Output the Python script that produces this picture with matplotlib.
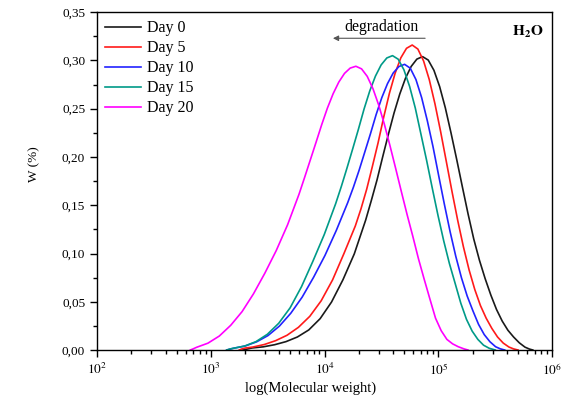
import numpy as np
import matplotlib
matplotlib.use('Agg')
import matplotlib.pyplot as plt

plt.rcParams['font.family'] = ['Liberation Serif', 'DejaVu Serif']
plt.rcParams['mathtext.fontset'] = 'stix'

# log10(M) and W(%), one pair of lists per day
day0_logM = [3.28, 3.32, 3.361, 3.461, 3.561, 3.661, 3.761, 3.861, 3.961, 4.061, 4.161, 4.261,
             4.361, 4.411, 4.461, 4.511, 4.561, 4.611, 4.661, 4.711, 4.761, 4.811, 4.861,
             4.911, 4.961, 5.011, 5.061, 5.111, 5.161, 5.211, 5.261, 5.311, 5.361, 5.411,
             5.461, 5.511, 5.561, 5.611, 5.661, 5.711, 5.761, 5.80, 5.83]
day0_w = [0.0, 0.001, 0.0021, 0.0033, 0.0055, 0.0087, 0.0135, 0.0208, 0.0325, 0.0497, 0.0727, 0.0996,
          0.1346, 0.155, 0.1763, 0.2003, 0.2236, 0.2458, 0.2653, 0.2816, 0.2938, 0.3014, 0.304,
          0.3004, 0.2898, 0.273, 0.251, 0.225, 0.1975, 0.169, 0.141, 0.115, 0.093, 0.074,
          0.057, 0.042, 0.030, 0.0205, 0.0135, 0.0075, 0.003, 0.001, 0.0]

day5_logM = [3.25, 3.27, 3.30, 3.37, 3.47, 3.57, 3.67, 3.77, 3.87, 3.97, 4.07, 4.17, 4.27,
             4.32, 4.37, 4.42, 4.47, 4.52, 4.57, 4.62, 4.67, 4.72, 4.77,
             4.82, 4.87, 4.92, 4.97, 5.02, 5.07, 5.12, 5.17, 5.22, 5.27, 5.32, 5.37,
             5.42, 5.47, 5.52, 5.57, 5.62, 5.66, 5.70]
day5_w = [0.0, 0.001, 0.002, 0.0031, 0.0057, 0.0097, 0.0153, 0.0235, 0.0349, 0.051, 0.0726, 0.0999, 0.1285,
          0.1463, 0.1666, 0.1902, 0.2146, 0.2415, 0.2661, 0.2868, 0.3027, 0.3126, 0.316,
          0.3118, 0.2995, 0.2802, 0.2551, 0.2262, 0.1952, 0.1641, 0.1343, 0.107, 0.083, 0.0627, 0.046,
          0.033, 0.0224, 0.0135, 0.0072, 0.0031, 0.0012, 0.0]

day10_logM = [3.14, 3.17, 3.203, 3.303, 3.403, 3.503, 3.603, 3.703, 3.803, 3.903, 4.003, 4.103,
              4.203, 4.253, 4.303, 4.353, 4.403, 4.453, 4.503, 4.553, 4.603, 4.653, 4.703,
              4.753, 4.803, 4.853, 4.903, 4.953, 5.003, 5.053, 5.103, 5.153, 5.203, 5.253,
              5.303, 5.353, 5.403, 5.453, 5.503, 5.543, 5.583]
day10_w = [0.0, 0.001, 0.0019, 0.0042, 0.0085, 0.015, 0.0248, 0.0381, 0.0548, 0.0753, 0.0979, 0.1239,
           0.1526, 0.1686, 0.1861, 0.205, 0.224, 0.2439, 0.2615, 0.276, 0.287, 0.2937, 0.296,
           0.292, 0.2802, 0.2615, 0.2375, 0.2106, 0.1805, 0.1509, 0.1227, 0.0971, 0.0748, 0.056,
           0.0408, 0.0266, 0.016, 0.0086, 0.0034, 0.0013, 0.0]

day15_logM = [3.14, 3.167, 3.197, 3.297, 3.397, 3.497, 3.597, 3.697, 3.797, 3.897, 3.997, 4.097,
              4.147, 4.197, 4.247, 4.297, 4.347, 4.397, 4.447, 4.497, 4.547, 4.597,
              4.647, 4.697, 4.747, 4.797, 4.847, 4.897, 4.947, 4.997, 5.047, 5.097, 5.147,
              5.197, 5.247, 5.297, 5.347, 5.397, 5.447, 5.477, 5.50]
day15_w = [0.0, 0.001, 0.0018, 0.0041, 0.0087, 0.0163, 0.0277, 0.0437, 0.0656, 0.0919, 0.1196, 0.1515,
           0.1694, 0.1886, 0.2084, 0.2286, 0.2497, 0.2684, 0.2838, 0.2954, 0.3026, 0.305,
           0.3013, 0.2904, 0.2732, 0.2508, 0.2236, 0.1963, 0.1674, 0.1393, 0.1131, 0.0896, 0.0692,
           0.0486, 0.0318, 0.0196, 0.011, 0.005, 0.0018, 0.0008, 0.0]

day20_logM = [2.82, 2.845, 2.875, 2.975, 3.075, 3.175, 3.275, 3.375, 3.475, 3.575, 3.675, 3.775,
              3.825, 3.875, 3.925, 3.975, 4.025, 4.075, 4.125, 4.175, 4.225, 4.275,
              4.325, 4.375, 4.425, 4.475, 4.525, 4.575, 4.625, 4.675, 4.725, 4.775, 4.825,
              4.875, 4.925, 4.975, 5.025, 5.075, 5.125, 5.175, 5.225, 5.26]
day20_w = [0.0, 0.0012, 0.0028, 0.0071, 0.0145, 0.0256, 0.0398, 0.0582, 0.0796, 0.103, 0.1298, 0.1613,
           0.179, 0.1971, 0.2152, 0.2336, 0.2507, 0.2655, 0.2776, 0.2866, 0.2921, 0.294,
           0.2913, 0.2835, 0.2708, 0.254, 0.2341, 0.2116, 0.188, 0.164, 0.1404, 0.118, 0.0946,
           0.0735, 0.0531, 0.033, 0.020, 0.011, 0.0064, 0.0034, 0.0012, 0.0]

labels = ['Day 0', 'Day 5', 'Day 10', 'Day 15', 'Day 20']
colors = ['#1a1a1a', '#ff1a1a', '#2222ff', '#009a88', '#ff00ff']
series = [(day0_logM, day0_w), (day5_logM, day5_w), (day10_logM, day10_w),
          (day15_logM, day15_w), (day20_logM, day20_w)]

fig = plt.figure(figsize=(5.64, 4.07), dpi=100)
ax = fig.add_axes([0.172, 0.140, 0.807, 0.830])

for (lm, w), lab, c in zip(series, labels, colors):
    ax.plot(10 ** np.array(lm), w, color=c, lw=1.2, label=lab)

ax.set_xscale('log')
ax.set_xlim(1e2, 1e6)
ax.set_ylim(0, 0.35)
ax.set_yticks(np.arange(0, 0.351, 0.05))
ax.set_yticks(np.arange(0.025, 0.35, 0.05), minor=True)
ax.set_yticklabels([f'{v:.2f}'.replace('.', ',') for v in np.arange(0, 0.351, 0.05)])
ax.set_xticks([1e2, 1e3, 1e4, 1e5, 1e6])
ax.set_xticklabels([r'$10^{2}$', r'$10^{3}$', r'$10^{4}$', r'$10^{5}$', r'$10^{6}$'])

ax.tick_params(which='both', direction='out', top=False, right=False, labelsize=9.5)
ax.tick_params(which='major', length=5, width=1)
ax.tick_params(which='minor', length=3, width=1)
for s in ax.spines.values():
    s.set_linewidth(1.0)

ax.set_xlabel('log(Molecular weight)', fontsize=10.5)
ax.xaxis.set_label_coords(0.47, -0.093)
ax.set_ylabel('W (%)', fontsize=9.5)
ax.yaxis.set_label_coords(-0.125, 0.55)

ax.legend(loc='upper left', frameon=False, fontsize=11.5, handlelength=2.25,
          handletextpad=0.35, labelspacing=0.25, borderaxespad=0.2, borderpad=0.3)

# degradation arrow
ax.annotate('', xy=(10 ** 4.049, 0.323), xytext=(10 ** 4.908, 0.323),
            arrowprops=dict(arrowstyle='-|>', color='#555555', lw=0.8,
                            mutation_scale=8))
ax.text(10 ** 4.498, 0.3348, 'degradation', fontsize=11.3, ha='center', va='center')
ax.text(10 ** 5.786, 0.330, r'$\mathbf{H_{2}O}$', fontsize=11, ha='center', va='center')

fig.savefig('out.png', dpi=100)
